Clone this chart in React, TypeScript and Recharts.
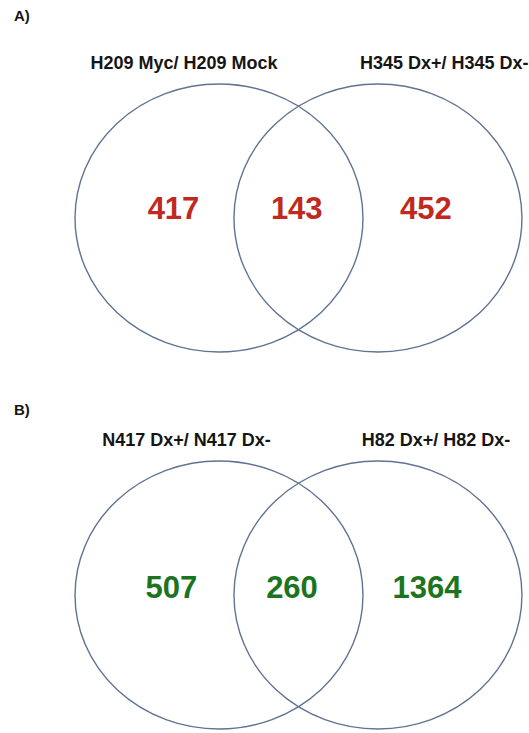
import { ScatterChart, Scatter, XAxis, YAxis, ReferenceDot } from 'recharts';

const W = 529;
const H = 733;

// one unit = one circle radius; x grows right, y grows up
const xDomain: [number, number] = [-1.521, 2.153];
const yDomain: [number, number] = [-3.843, 1.627];

const circlesA = [
  { x: 0, y: 0, r: 1 },
  { x: 1.104, y: 0, r: 1 },
];
const circlesB = [
  { x: 0, y: -2.813, r: 1 },
  { x: 1.104, y: -2.813, r: 1 },
];

const countsA = [
  { x: -0.316, y: 0.075, value: '417' },
  { x: 0.54, y: 0.075, value: '143' },
  { x: 1.437, y: 0.075, value: '452' },
];
const countsB = [
  { x: -0.33, y: -2.75, value: '507' },
  { x: 0.507, y: -2.75, value: '260' },
  { x: 1.444, y: -2.75, value: '1364' },
];

const setNamesA = [
  { x: -0.243, y: 1.157, value: 'H209 Myc/ H209 Mock', anchor: 'center' },
  { x: 0.979, y: 1.157, value: 'H345 Dx+/ H345 Dx-', anchor: 'right' },
];
const setNamesB = [
  { x: -0.226, y: -1.657, value: 'N417 Dx+/ N417 Dx-', anchor: 'center' },
  { x: 1.507, y: -1.657, value: 'H82 Dx+/ H82 Dx-', anchor: 'center' },
];

const panelLabels = [
  { x: -1.424, y: 1.507, value: 'A)' },
  { x: -1.424, y: -1.433, value: 'B)' },
];

const FONT = '"Liberation Sans", Arial, sans-serif';
const kx = W / (xDomain[1] - xDomain[0]);
const ky = H / (yDomain[1] - yDomain[0]);

function CircleShape(props: any) {
  const { cx, cy, payload } = props;
  return (
    <ellipse
      cx={cx}
      cy={cy}
      rx={payload.r * kx}
      ry={payload.r * ky}
      fill="none"
      stroke="#5f7392"
      strokeWidth={1.4}
    />
  );
}

export default function App() {
  return (
    <div style={{ position: 'absolute', left: 0, top: 0, background: '#fff', fontFamily: FONT }}>
      <ScatterChart width={W} height={H} margin={{ top: 0, right: 0, bottom: 0, left: 0 }}>
        <XAxis type="number" dataKey="x" domain={xDomain} allowDataOverflow hide />
        <YAxis type="number" dataKey="y" domain={yDomain} allowDataOverflow hide />
        <Scatter data={circlesA} shape={<CircleShape />} isAnimationActive={false} />
        <Scatter data={circlesB} shape={<CircleShape />} isAnimationActive={false} />
        {countsA.map((c) => (
          <ReferenceDot
            key={'a' + c.value}
            x={c.x}
            y={c.y}
            r={0}
            stroke="none"
            ifOverflow="visible"
            label={{ value: c.value, position: 'center', fill: '#c0291d', fontSize: 31, fontWeight: 'bold', fontFamily: FONT }}
          />
        ))}
        {countsB.map((c) => (
          <ReferenceDot
            key={'b' + c.value}
            x={c.x}
            y={c.y}
            r={0}
            stroke="none"
            ifOverflow="visible"
            label={{ value: c.value, position: 'center', fill: '#1b7420', fontSize: 31, fontWeight: 'bold', fontFamily: FONT }}
          />
        ))}
        {[...setNamesA, ...setNamesB].map((s) => (
          <ReferenceDot
            key={s.value}
            x={s.x}
            y={s.y}
            r={0}
            stroke="none"
            ifOverflow="visible"
            label={{ value: s.value, position: s.anchor, offset: 0, fill: '#151515', fontSize: 18, fontWeight: 'bold', fontFamily: FONT }}
          />
        ))}
        {panelLabels.map((p) => (
          <ReferenceDot
            key={p.value}
            x={p.x}
            y={p.y}
            r={0}
            stroke="none"
            ifOverflow="visible"
            label={{ value: p.value, position: 'right', offset: 0, fill: '#151515', fontSize: 15, fontWeight: 'bold', fontFamily: FONT }}
          />
        ))}
      </ScatterChart>
    </div>
  );
}
